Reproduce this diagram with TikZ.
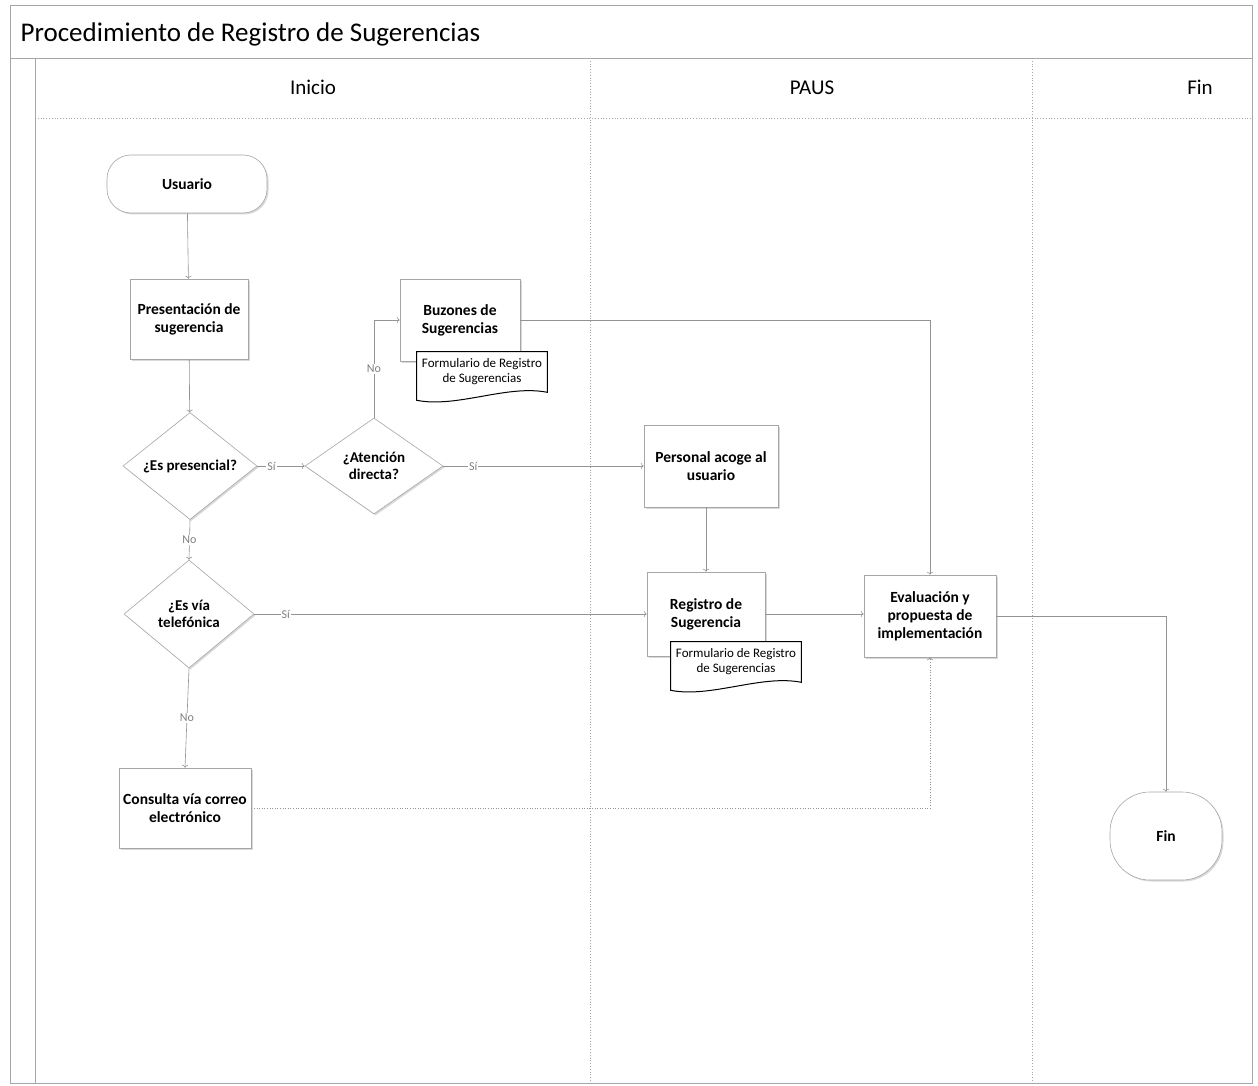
\documentclass[tikz,border=0pt]{standalone}
\usepackage{fontspec}
\setmainfont{Carlito}
\usepackage{tikz}
\usetikzlibrary{arrows.meta, positioning, shapes.geometric, shadows}

\begin{document}
\begin{tikzpicture}[
    x=1pt, y=-1pt,
    line width=0.6pt,
    proceso/.style={
        rectangle,
        draw=gray!70,
        fill=white,
        drop shadow={shadow xshift=1.5pt, shadow yshift=-1.5pt, opacity=0.3},
        minimum width=118pt,
        minimum height=80pt,
        inner sep=2pt,
        align=center,
        font=\fontsize{15.5}{18}\selectfont\bfseries
    },
    terminal/.style={
        proceso,
        rounded corners=24pt
    },
    decision/.style={
        diamond,
        draw=gray!70,
        fill=white,
        drop shadow={shadow xshift=1.5pt, shadow yshift=-1.5pt, opacity=0.3},
        inner sep=0pt,
        align=center,
        font=\fontsize{15}{17}\selectfont\bfseries
    },
    documento/.style={
        rectangle,
        minimum width=130pt,
        minimum height=40pt,
        inner sep=1pt,
        align=center,
        font=\fontsize{13}{15}\selectfont
    },
    docborde/.style={draw=black, line width=1pt, fill=white},
    cabecera/.style={anchor=base, font=\fontsize{21}{25}\selectfont},
    etiqueta/.style={fill=white, inner sep=1pt, text=gray, font=\fontsize{12}{14}\selectfont},
    flecha/.style={->, draw=gray!85},
    carril/.style={draw=gray!70, dotted, line width=0.8pt}
]

\useasboundingbox (0,0) rectangle (1258,1086);

% marco y carriles
\draw[gray!70] (10,5) rectangle (1252,1083);
\draw[gray!70] (10,58) -- (1252,58);
\draw[gray!70] (35,58) -- (35,1083);
\draw[carril] (35,118) -- (1252,118);
\draw[carril] (590,58) -- (590,1083);
\draw[carril] (1032,58) -- (1032,1083);

\node[anchor=west, font=\fontsize{27}{32}\selectfont] (titulo) at (17,34) {Procedimiento de Registro de Sugerencias};
\node[cabecera] (inicio) at (313,95) {Inicio};
\node[cabecera] (paus) at (812,95) {PAUS};
\node[cabecera] (finlane) at (1200,95) {Fin};

% nodos
\node[terminal, minimum width=160pt, minimum height=58pt] (usuario) at (187,184) {Usuario};
\node[proceso] (presentacion) at (189,319) {Presentación de\\sugerencia};
\node[proceso, minimum width=120pt, minimum height=82pt] (buzones) at (460,320) {Buzones de\\Sugerencias};
\node[documento] (form1) at (482,372) {Formulario de Registro\\de Sugerencias};

\node[decision, minimum width=134pt, minimum height=96pt] (presencial) at (190,466) {¿Es presencial?};
\node[decision, minimum width=138pt, minimum height=96pt] (atencion) at (374,466) {¿Atención\\directa?};
\node[proceso, minimum width=134pt, minimum height=82pt] (personal) at (711,466) {Personal acoge al\\usuario};

\node[decision, minimum width=130pt, minimum height=108pt] (telefonica) at (189,614) {¿Es vía\\telefónica};
\node[proceso, minimum height=84pt] (registro) at (706,614) {Registro de\\Sugerencia};
\node[documento] (form2) at (736,662) {Formulario de Registro\\de Sugerencias};
\node[proceso, minimum width=132pt, minimum height=82pt] (evaluacion) at (930,616) {Evaluación y\\propuesta de\\implementación};

\node[proceso, minimum width=132pt] (consulta) at (185,808) {Consulta vía correo\\electrónico};
\node[terminal, minimum width=112pt, minimum height=88pt, rounded corners=40pt] (fin) at (1166,836) {Fin};

% documentos
\draw[docborde] (form1.north west) -- (form1.north east) -- (form1.south east)
    .. controls +(-40,-8) and +(40,8) .. ([yshift=-8pt]form1.south west) -- cycle;
\node[documento] at (form1) {Formulario de Registro\\de Sugerencias};
\draw[docborde] (form2.north west) -- (form2.north east) -- (form2.south east)
    .. controls +(-40,-8) and +(40,8) .. ([yshift=-8pt]form2.south west) -- cycle;
\node[documento] at (form2) {Formulario de Registro\\de Sugerencias};

% conectores
\draw[flecha] (usuario) -- (presentacion);
\draw[flecha] (presentacion) -- (presencial);
\draw[flecha] (presencial.east) -- node[etiqueta, pos=0.3]{Sí} (atencion.west);
\draw[flecha] (atencion.east) -- node[etiqueta, pos=0.15]{Sí} (personal.west);
\draw[flecha] (atencion.north) |- node[etiqueta, pos=0.25]{No} (buzones.west);
\draw[flecha] (buzones.east) -| (evaluacion.north);
\draw[flecha] (presencial.south) -- node[etiqueta]{No} (telefonica.north);
\draw[flecha] (telefonica.east) -- node[etiqueta, pos=0.08]{Sí} (registro.west);
\draw[flecha] (telefonica.south) -- node[etiqueta]{No} (consulta.north);
\draw[flecha, dotted] (consulta.east) -| (evaluacion.south);
\draw[flecha] (personal.south -| registro.north) -- (registro.north);
\draw[flecha] (registro.east) -- (registro.east -| evaluacion.west);
\draw[flecha] (evaluacion.east) -| (fin.north);

\end{tikzpicture}
\end{document}
